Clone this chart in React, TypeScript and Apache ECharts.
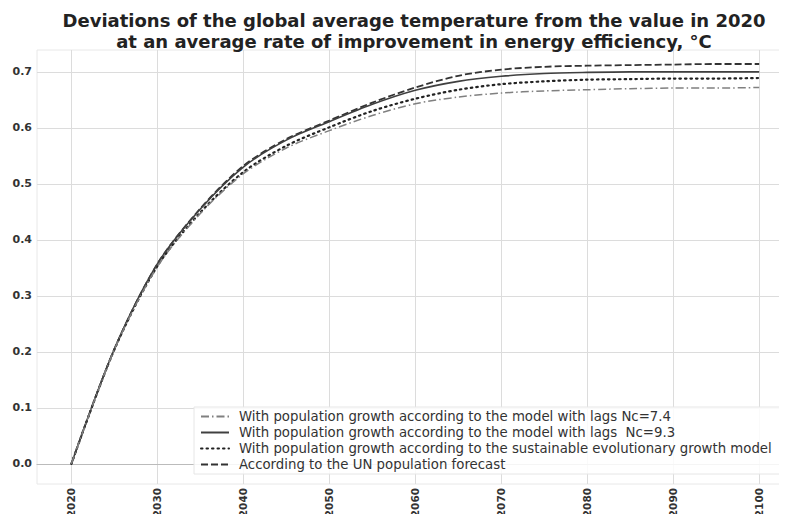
import React, { useEffect, useRef } from "react";
import * as echarts from "echarts";

const years = [2020, 2025, 2030, 2035, 2040, 2045, 2050, 2055, 2060, 2065, 2070, 2075, 2080, 2085, 2090, 2095, 2100];
const lagsNc74 = [0, 0.204, 0.352, 0.447, 0.518, 0.564, 0.595, 0.622, 0.643, 0.655, 0.662, 0.666, 0.668, 0.670, 0.671, 0.671, 0.672];
const lagsNc93 = [0, 0.205, 0.357, 0.455, 0.530, 0.578, 0.611, 0.642, 0.667, 0.683, 0.692, 0.697, 0.699, 0.700, 0.700, 0.700, 0.700];
const sustainable = [0, 0.204, 0.353, 0.449, 0.521, 0.568, 0.601, 0.630, 0.652, 0.668, 0.678, 0.683, 0.686, 0.687, 0.688, 0.688, 0.689];
const unForecast = [0, 0.205, 0.357, 0.456, 0.532, 0.580, 0.613, 0.645, 0.672, 0.693, 0.704, 0.709, 0.711, 0.712, 0.713, 0.714, 0.714];
const xTicks = [2020, 2030, 2040, 2050, 2060, 2070, 2080, 2090, 2100];
const yTicks = [0, 0.1, 0.2, 0.3, 0.4, 0.5, 0.6, 0.7];
const seriesNames = [
  "With population growth according to the model with lags Nc=7.4",
  "With population growth according to the model with lags  Nc=9.3",
  "With population growth according to the sustainable evolutionary growth model",
  "According to the UN population forecast",
];
const titleLines = [
  "Deviations of the global average temperature from the value in 2020",
  "at an average rate of improvement in energy efficiency, °C",
];

const font = "DejaVu Sans";

export default function App() {
  const ref = useRef<HTMLDivElement>(null);
  useEffect(() => {
    if (!ref.current) return;
    const chart = echarts.init(ref.current, null, { renderer: "svg" });
    const mk = (vals: number[]) => years.map((y, i) => [y, vals[i]]);
    const styles = [
      { color: "#808080", width: 1.5, type: [8, 3, 1.5, 3] },
      { color: "#404040", width: 1.6, type: "solid" },
      { color: "#222222", width: 2.2, type: [1.5, 4], cap: "round" },
      { color: "#333333", width: 1.8, type: [7, 3] },
    ];
    const datas = [lagsNc74, lagsNc93, sustainable, unForecast];
    chart.setOption({
      animation: false,
      backgroundColor: "#ffffff",
      title: {
        text: titleLines.join("\n"),
        left: 409,
        textAlign: "center",
        top: 5,
        textStyle: {
          fontFamily: font,
          fontWeight: "bold",
          fontSize: 18,
          lineHeight: 21,
          color: "#222",
        },
      },
      grid: {
        left: 37,
        right: 2,
        top: 50,
        bottom: 38,
        show: true,
        borderColor: "#e8e8e8",
        borderWidth: 1,
      },
      legend: {
        orient: "vertical",
        left: 194,
        top: 407,
        itemWidth: 28,
        itemHeight: 10,
        itemGap: 3,
        padding: [3, 10, 3, 6],
        backgroundColor: "rgba(255,255,255,0.85)",
        borderColor: "#e6e6e6",
        borderWidth: 1,
        itemStyle: { opacity: 0 },
        textStyle: { fontFamily: font, fontSize: 13.3, color: "#333", padding: [0, 0, 0, 5] },
        data: seriesNames,
      },
      xAxis: {
        type: "value",
        min: 2016,
        max: 2103,
        axisLine: { show: true, lineStyle: { color: "#bbbbbb", width: 1.2 } },
        axisTick: { show: false, customValues: xTicks },
        axisLabel: {
          customValues: xTicks,
          rotate: 90,
          margin: 4,
          fontFamily: font,
          fontWeight: "bold",
          fontSize: 10.5,
          color: "#333",
          formatter: (v: number) => String(v),
        },
        splitLine: { show: true, lineStyle: { color: "#dcdcdc", width: 1 } },
      },
      yAxis: {
        type: "value",
        min: -0.036,
        max: 0.739,
        axisLine: { show: false },
        axisTick: { show: false, customValues: yTicks },
        axisLabel: {
          customValues: yTicks,
          margin: 5,
          fontFamily: font,
          fontWeight: "bold",
          fontSize: 11,
          color: "#333",
          formatter: (v: number) => v.toFixed(1),
        },
        splitLine: { show: true, lineStyle: { color: "#dcdcdc", width: 1 } },
      },
      series: seriesNames.map((name, i) => ({
        name,
        type: "line",
        data: mk(datas[i]),
        smooth: 0.3,
        symbol: "none",
        showSymbol: false,
        color: styles[i].color,
        lineStyle: {
          color: styles[i].color,
          width: styles[i].width,
          type: styles[i].type,
          cap: (styles[i] as any).cap || "butt",
        },
        z: 4 - i,
      })),
    });
    return () => chart.dispose();
  }, []);
  return <div ref={ref} style={{ width: 787, height: 522, margin: -8 }} />;
}
